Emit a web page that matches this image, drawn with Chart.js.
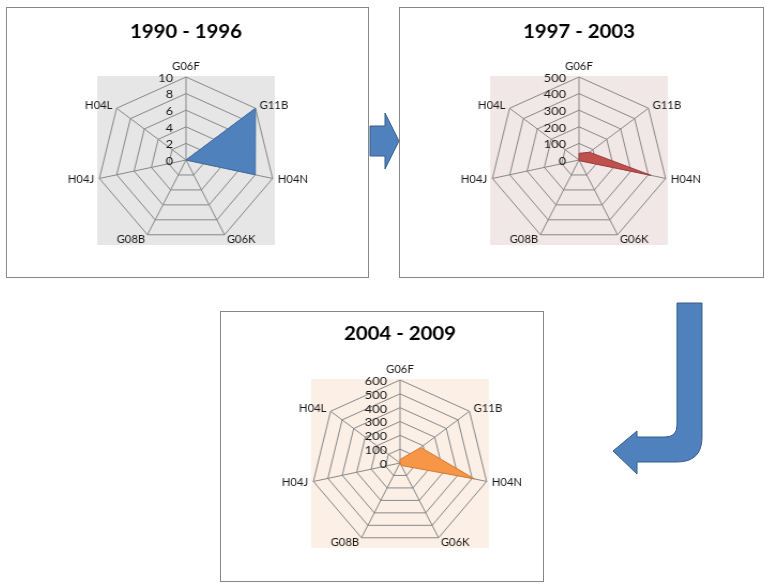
<!DOCTYPE html>
<html>
<head>
<meta charset="utf-8">
<script src="https://cdn.jsdelivr.net/npm/chart.js@4"></script>
<style>
    body { margin: 0; background: #fff; }
    #page { position: relative; width: 765px; height: 585px; overflow: hidden; }
    .box { position: absolute; box-sizing: border-box; border: 1px solid #878787; }
    .radar { position: absolute; transform: scaleX(1.07); }
    #arrows { position: absolute; left: 0; top: 0; }
</style>
</head>
<body>
<div id="page">
    <div class="box" style="left:6px; top:7px; width:363px; height:271px;"></div>
    <div class="box" style="left:399px; top:7px; width:365px; height:271px;"></div>
    <div class="box" style="left:220px; top:311px; width:324px; height:271px;"></div>

    <canvas id="chart_1" class="radar" width="300" height="268" style="left:36px; top:8px;"></canvas>
    <canvas id="chart_2" class="radar" width="300" height="268" style="left:429px; top:8px;"></canvas>
    <canvas id="chart_3" class="radar" width="300" height="268" style="left:250px; top:312px;"></canvas>

    <svg id="arrows" width="765" height="585">
        <path d="M370 126 L385 126 L385 113 L399 141 L385 169 L385 156 L370 156 Z"
              fill="#4f81bd" stroke="#385d8a" stroke-width="1"/>
        <path d="M677 303 L702 303 L702 437 Q702 462 677 462 L637 462 L637 474 L613 451 L637 431 L637 437 L665 437 Q677 437 677 425 Z"
              fill="#4f81bd" stroke="#385d8a" stroke-width="1"/>
    </svg>
</div>

<script>
// Chart data
var classes = ["G06F", "G11B", "H04N", "G06K", "G08B", "H04J", "H04L"];
var titles = ["1990 - 1996", "1997 - 2003", "2004 - 2009"];

var counts_1990_1996 = [0, 10, 8, 0, 0, 0, 0];
var counts_1997_2003 = [40, 75, 415, 5, 0, 0, 0];
var counts_2004_2009 = [25, 180, 515, 20, 0, 0, 0];

var ticks_1990_1996 = [0, 2, 4, 6, 8, 10];
var ticks_1997_2003 = [0, 100, 200, 300, 400, 500];
var ticks_2004_2009 = [0, 100, 200, 300, 400, 500, 600];

// Excel-like plot area, tick labels left of the axis, point labels
var excelRadar = {
    id: 'excelRadar',
    beforeDraw: function(chart, args, opts) {
        var s = chart.scales.r;
        var ctx = chart.ctx;
        ctx.save();
        ctx.fillStyle = opts.background;
        ctx.fillRect(s.xCenter - s.drawingArea, s.yCenter - s.drawingArea - 1,
                     s.drawingArea * 2, s.drawingArea * 2 + 3);
        ctx.restore();
    },
    afterDraw: function(chart, args, opts) {
        var s = chart.scales.r;
        var ctx = chart.ctx;
        ctx.save();
        ctx.fillStyle = '#1a1a1a';

        // tick labels
        ctx.font = '12px Lato';
        ctx.textAlign = 'right';
        ctx.textBaseline = 'middle';
        s.ticks.forEach(function(t) {
            var d = s.getDistanceFromCenterForValue(t.value);
            ctx.fillText(t.label, s.xCenter - 12, s.yCenter - d + 1);
        });

        // point labels
        ctx.font = '10.5px Lato';
        chart.data.labels.forEach(function(label, i) {
            var p = s.getPointPosition(i, s.drawingArea + 5);
            var dx = p.x - s.xCenter;
            if (Math.abs(dx) < 2) {
                ctx.textAlign = 'center';
                ctx.textBaseline = 'bottom';
            } else {
                ctx.textAlign = dx > 0 ? 'left' : 'right';
                ctx.textBaseline = 'middle';
            }
            ctx.fillText(label, p.x, p.y);
        });
        ctx.restore();
    }
};

function draw_radar(id, title, values, ticks, fill, border, background, pad) {
    var objData = {
        labels: classes,
        datasets: [{
            label: title,
            data: values,
            backgroundColor: fill,
            borderColor: border,
            borderWidth: 1,
            pointRadius: 0,
            fill: true
        }]
    };

    var objOptions = {
        responsive: false,
        animation: false,
        layout: { padding: { left: 67, right: 67, top: 0, bottom: pad.bottom } },
        plugins: {
            legend: { display: false },
            tooltip: { enabled: false },
            title: {
                display: true,
                text: title,
                color: '#000',
                font: { family: 'Lato', size: 19, weight: 'bold' },
                padding: { top: pad.titleTop, bottom: pad.titleBottom }
            },
            excelRadar: { background: background }
        },
        scales: {
            r: {
                min: ticks[0],
                max: ticks[ticks.length - 1],
                ticks: { display: false, stepSize: ticks[1] - ticks[0] },
                pointLabels: { display: false },
                grid: { color: '#888888', lineWidth: 1 },
                angleLines: { color: '#888888', lineWidth: 1 }
            }
        }
    };

    return new Chart(document.getElementById(id), {
        type: 'radar',
        data: objData,
        options: objOptions,
        plugins: [excelRadar]
    });
}

draw_radar('chart_1', titles[0], counts_1990_1996, ticks_1990_1996,
    '#4f81bd', '#3f6ca3', '#e6e6e6', { titleTop: 12, titleBottom: 34.2, bottom: 33 });
draw_radar('chart_2', titles[1], counts_1997_2003, ticks_1997_2003,
    '#c0504d', '#9c3d3a', '#f2e7e7', { titleTop: 12, titleBottom: 34.2, bottom: 33 });
draw_radar('chart_3', titles[2], counts_2004_2009, ticks_2004_2009,
    '#f79646', '#d27b33', '#fcefe6', { titleTop: 10, titleBottom: 35.2, bottom: 34 });
</script>
</body>
</html>
